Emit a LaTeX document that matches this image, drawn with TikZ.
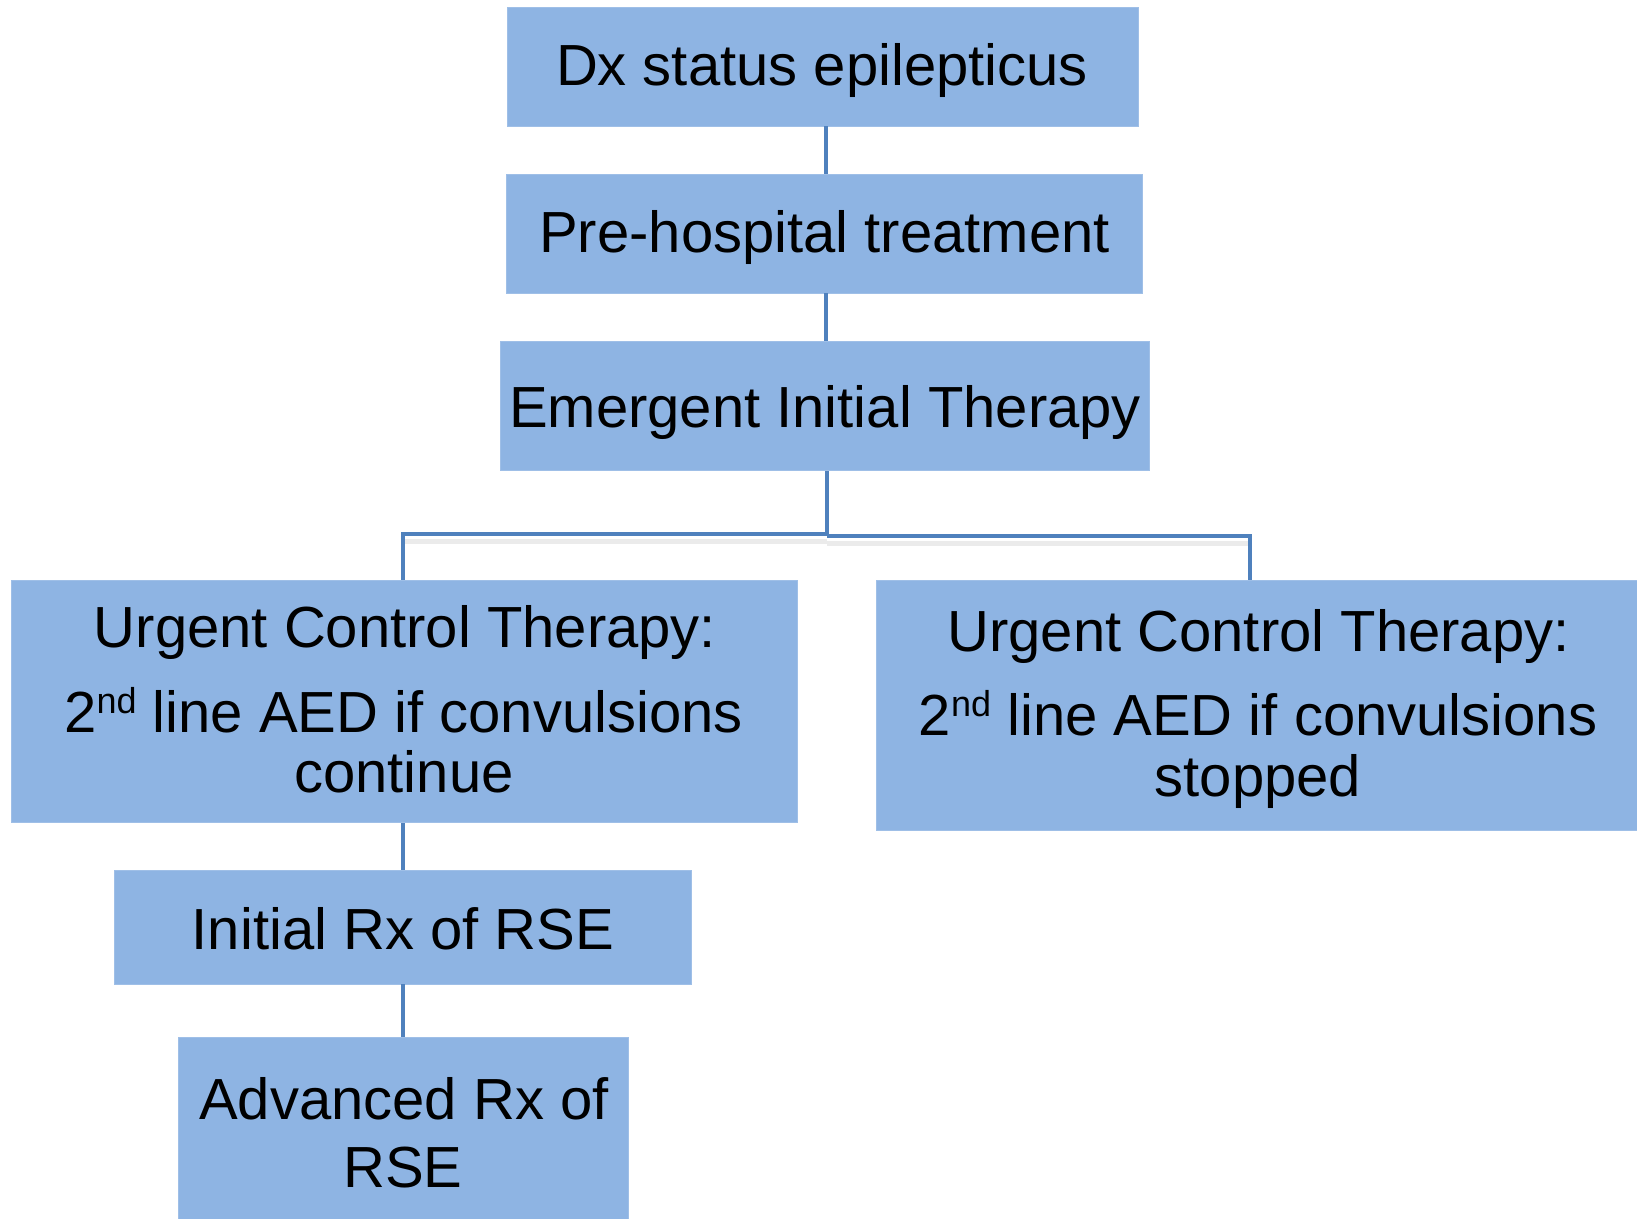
\documentclass[tikz,border=0pt]{standalone}
\usepackage{fontspec}
\setmainfont{Liberation Sans}
\definecolor{boxfill}{HTML}{8EB4E3}
\definecolor{linkc}{HTML}{4F81BD}
\newcommand{\supnd}{\raisebox{19pt}{\fontsize{36}{36}\selectfont nd}}
\begin{document}
\begin{tikzpicture}[x=1pt,y=-1pt,
  box/.style={draw=boxfill!85!white, line width=0.8pt, fill=boxfill, inner sep=0pt},
  txt/.style={anchor=base, inner sep=0pt, font=\fontsize{58}{60}\selectfont},
  link/.style={draw=linkc, line width=4pt},
  shade/.style={draw=black!8, line width=5pt}]
\useasboundingbox (0,0) rectangle (1637,1218);
% connector anchors
\coordinate (c1) at (826,0);
\coordinate (jl) at (827,534);
\coordinate (jr0) at (827,536);
\coordinate (jr) at (1250,536);
\coordinate (c4) at (403,0);
% shadows of the branch line
\draw[shade] (405,541) -- (827,541);
\draw[shade] (827,543) -- (1248,543);
% boxes
\node[box, minimum width=631pt, minimum height=118.5pt] (b1) at (822.5,66.75) {};
\node[box, minimum width=636pt, minimum height=119pt] (b2) at (824,233.5) {};
\node[box, minimum width=649.5pt, minimum height=129.7pt] (b3) at (824.75,405.85) {};
\node[box, minimum width=786pt, minimum height=242pt] (b4) at (404.55,701.7) {};
\node[box, minimum width=769pt, minimum height=249.3pt] (b5) at (1260.5,705.35) {};
\node[box, minimum width=576.2pt, minimum height=113.3pt] (b6) at (402.9,927.35) {};
\node[box, minimum width=450pt, minimum height=187.7pt] (b7) at (403.5,1131.15) {};
% connectors
\draw[link] (b1.south -| c1) -- (b2.north -| c1);
\draw[link] (b2.south -| c1) -- (b3.north -| c1);
\draw[link] (b3.south -| jl) -- (jl) -- (jl -| c4) -- (b4.north -| c4);
\draw[link] (jr0) -- (jr) -- (b5.north -| jr);
\draw[link] (b4.south -| c4) -- (b6.north -| c4);
\draw[link] (b6.south -| c4) -- (b7.north -| c4);
% texts
\node[txt] (t1) at (822,85) {Dx status epilepticus};
\node[txt] (t2) at (824.5,252) {Pre-hospital treatment};
\node[txt] (t3) at (825,427) {Emergent Initial Therapy};
\node[txt] (t4a) at (405,647) {Urgent Control Therapy:};
\node[txt] (t4b) at (403.5,732) {2\supnd{} line AED if convulsions};
\node[txt] (t4c) at (404,792) {continue};
\node[txt] (t5a) at (1258.5,651) {Urgent Control Therapy:};
\node[txt] (t5b) at (1258,735) {2\supnd{} line AED if convulsions};
\node[txt] (t5c) at (1258,796) {stopped};
\node[txt] (t6) at (403,949) {Initial Rx of RSE};
\node[txt] (t7a) at (404,1119) {Advanced Rx of};
\node[txt] (t7b) at (403,1187) {RSE};
\end{tikzpicture}
\end{document}
